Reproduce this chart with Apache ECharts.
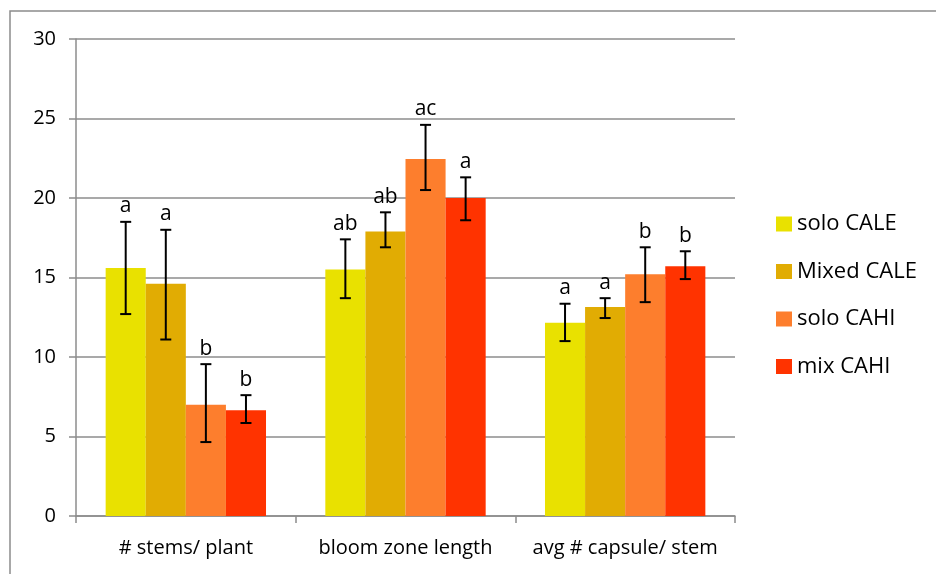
<!DOCTYPE html>
<html>
<head>
<meta charset="utf-8">
<script src="https://cdn.jsdelivr.net/npm/echarts@6/dist/echarts.min.js"></script>
<style>
  html, body { margin: 0; padding: 0; background: #fff; }
  #chart { width: 936px; height: 574px; }
</style>
</head>
<body>
<div id="chart"></div>
<script>
// Trait categories along the x axis
const categories = ['# stems/ plant', 'bloom zone length', 'avg # capsule/ stem'];
const seriesNames = ['solo CALE', 'Mixed CALE', 'solo CAHI', 'mix CAHI'];

// Mean values per treatment
const soloCALE = [15.6, 15.5, 12.15];
const mixedCALE = [14.6, 17.9, 13.15];
const soloCAHI = [7.0, 22.45, 15.2];
const mixCAHI = [6.65, 20.0, 15.7];

// Error bar bounds [low, high] per treatment
const soloCALEErr = [[12.7, 18.5], [13.7, 17.4], [11.0, 13.35]];
const mixedCALEErr = [[11.1, 18.0], [16.9, 19.1], [12.45, 13.7]];
const soloCAHIErr = [[4.65, 9.55], [20.5, 24.6], [13.45, 16.9]];
const mixCAHIErr = [[5.85, 7.6], [18.6, 21.3], [14.9, 16.65]];

// Significance letters per treatment
const soloCALELetters = ['a', 'ab', 'a'];
const mixedCALELetters = ['a', 'ab', 'a'];
const soloCAHILetters = ['b', 'ac', 'b'];
const mixCAHILetters = ['b', 'a', 'b'];

const colors = ['#e9e100', '#e1ac03', '#fd7e2d', '#ff3300'];
const FONT = '"Open Sans", Lato, sans-serif';
const GAP = 0.27;

const values = [soloCALE, mixedCALE, soloCAHI, mixCAHI];
const errs = [soloCALEErr, mixedCALEErr, soloCAHIErr, mixCAHIErr];
const letters = [soloCALELetters, mixedCALELetters, soloCAHILetters, mixCAHILetters];

// Flatten error info into rows: [category, seriesIndex, low, high, letter]
const errRows = [];
errs.forEach((arr, s) => arr.forEach((e, c) => errRows.push([c, s, e[0], e[1], letters[s][c]])));

function renderErr(params, api) {
  const c = api.value(0), s = api.value(1);
  const catW = api.size([1, 0])[0];
  const barW = catW * (1 - GAP) / 4;
  const center = api.coord([c, 0])[0];
  const x = center + (s - 1.5) * barW;
  const yLo = api.coord([c, api.value(2)])[1];
  const yHi = api.coord([c, api.value(3)])[1];
  const cap = 5.5;
  const st = { stroke: '#000', lineWidth: 2 };
  return {
    type: 'group',
    children: [
      { type: 'line', shape: { x1: x, y1: yLo, x2: x, y2: yHi }, style: st },
      { type: 'line', shape: { x1: x - cap, y1: yLo, x2: x + cap, y2: yLo }, style: st },
      { type: 'line', shape: { x1: x - cap, y1: yHi, x2: x + cap, y2: yHi }, style: st },
      { type: 'text', x: x, y: yHi - 5, style: {
          text: api.value(4), fill: '#000', font: '21px ' + FONT,
          textAlign: 'center', textVerticalAlign: 'bottom' } }
    ]
  };
}

const chart = echarts.init(document.getElementById('chart'), null, { renderer: 'canvas' });

const series = seriesNames.map((name, i) => ({
  name: name,
  type: 'bar',
  data: values[i],
  barGap: '0%',
  barCategoryGap: (GAP * 100) + '%',
  itemStyle: { color: colors[i] },
  emphasis: { disabled: true }
}));

series.push({
  type: 'custom',
  name: 'err',
  renderItem: renderErr,
  data: errRows,
  encode: { x: 0, y: 3 },
  z: 10,
  silent: true
});

chart.setOption({
  animation: false,
  backgroundColor: '#fff',
  graphic: [{
    type: 'rect',
    shape: { x: 10, y: 11, width: 1000, height: 1000 },
    style: { fill: 'none', stroke: '#8c8c8c', lineWidth: 1.5 },
    silent: true
  }],
  grid: { left: 76, right: 201, top: 39, bottom: 58 },
  legend: {
    orient: 'vertical',
    left: 776,
    top: 213,
    padding: 0,
    itemWidth: 16,
    itemHeight: 15,
    itemGap: 25.5,
    icon: 'rect',
    data: seriesNames,
    textStyle: { fontSize: 22, color: '#000', fontFamily: FONT, padding: [0, 0, 0, 0] }
  },
  xAxis: {
    type: 'category',
    data: categories,
    axisLine: { lineStyle: { color: '#8c8c8c', width: 1.5 } },
    axisTick: { show: true, interval: 0, length: 7, lineStyle: { color: '#8c8c8c', width: 1.5 } },
    axisLabel: { interval: 0, hideOverlap: false, fontSize: 20, color: '#000', fontFamily: FONT, margin: 22 }
  },
  yAxis: {
    type: 'value',
    min: 0,
    max: 30,
    interval: 5,
    axisLine: { show: true, lineStyle: { color: '#8c8c8c', width: 1.5 } },
    axisTick: { show: true, length: 7, lineStyle: { color: '#8c8c8c', width: 1.5 } },
    splitLine: { lineStyle: { color: '#8c8c8c', width: 1.5 } },
    axisLabel: { fontSize: 20, color: '#000', fontFamily: FONT, margin: 20 }
  },
  series: series
});
</script>
</body>
</html>
